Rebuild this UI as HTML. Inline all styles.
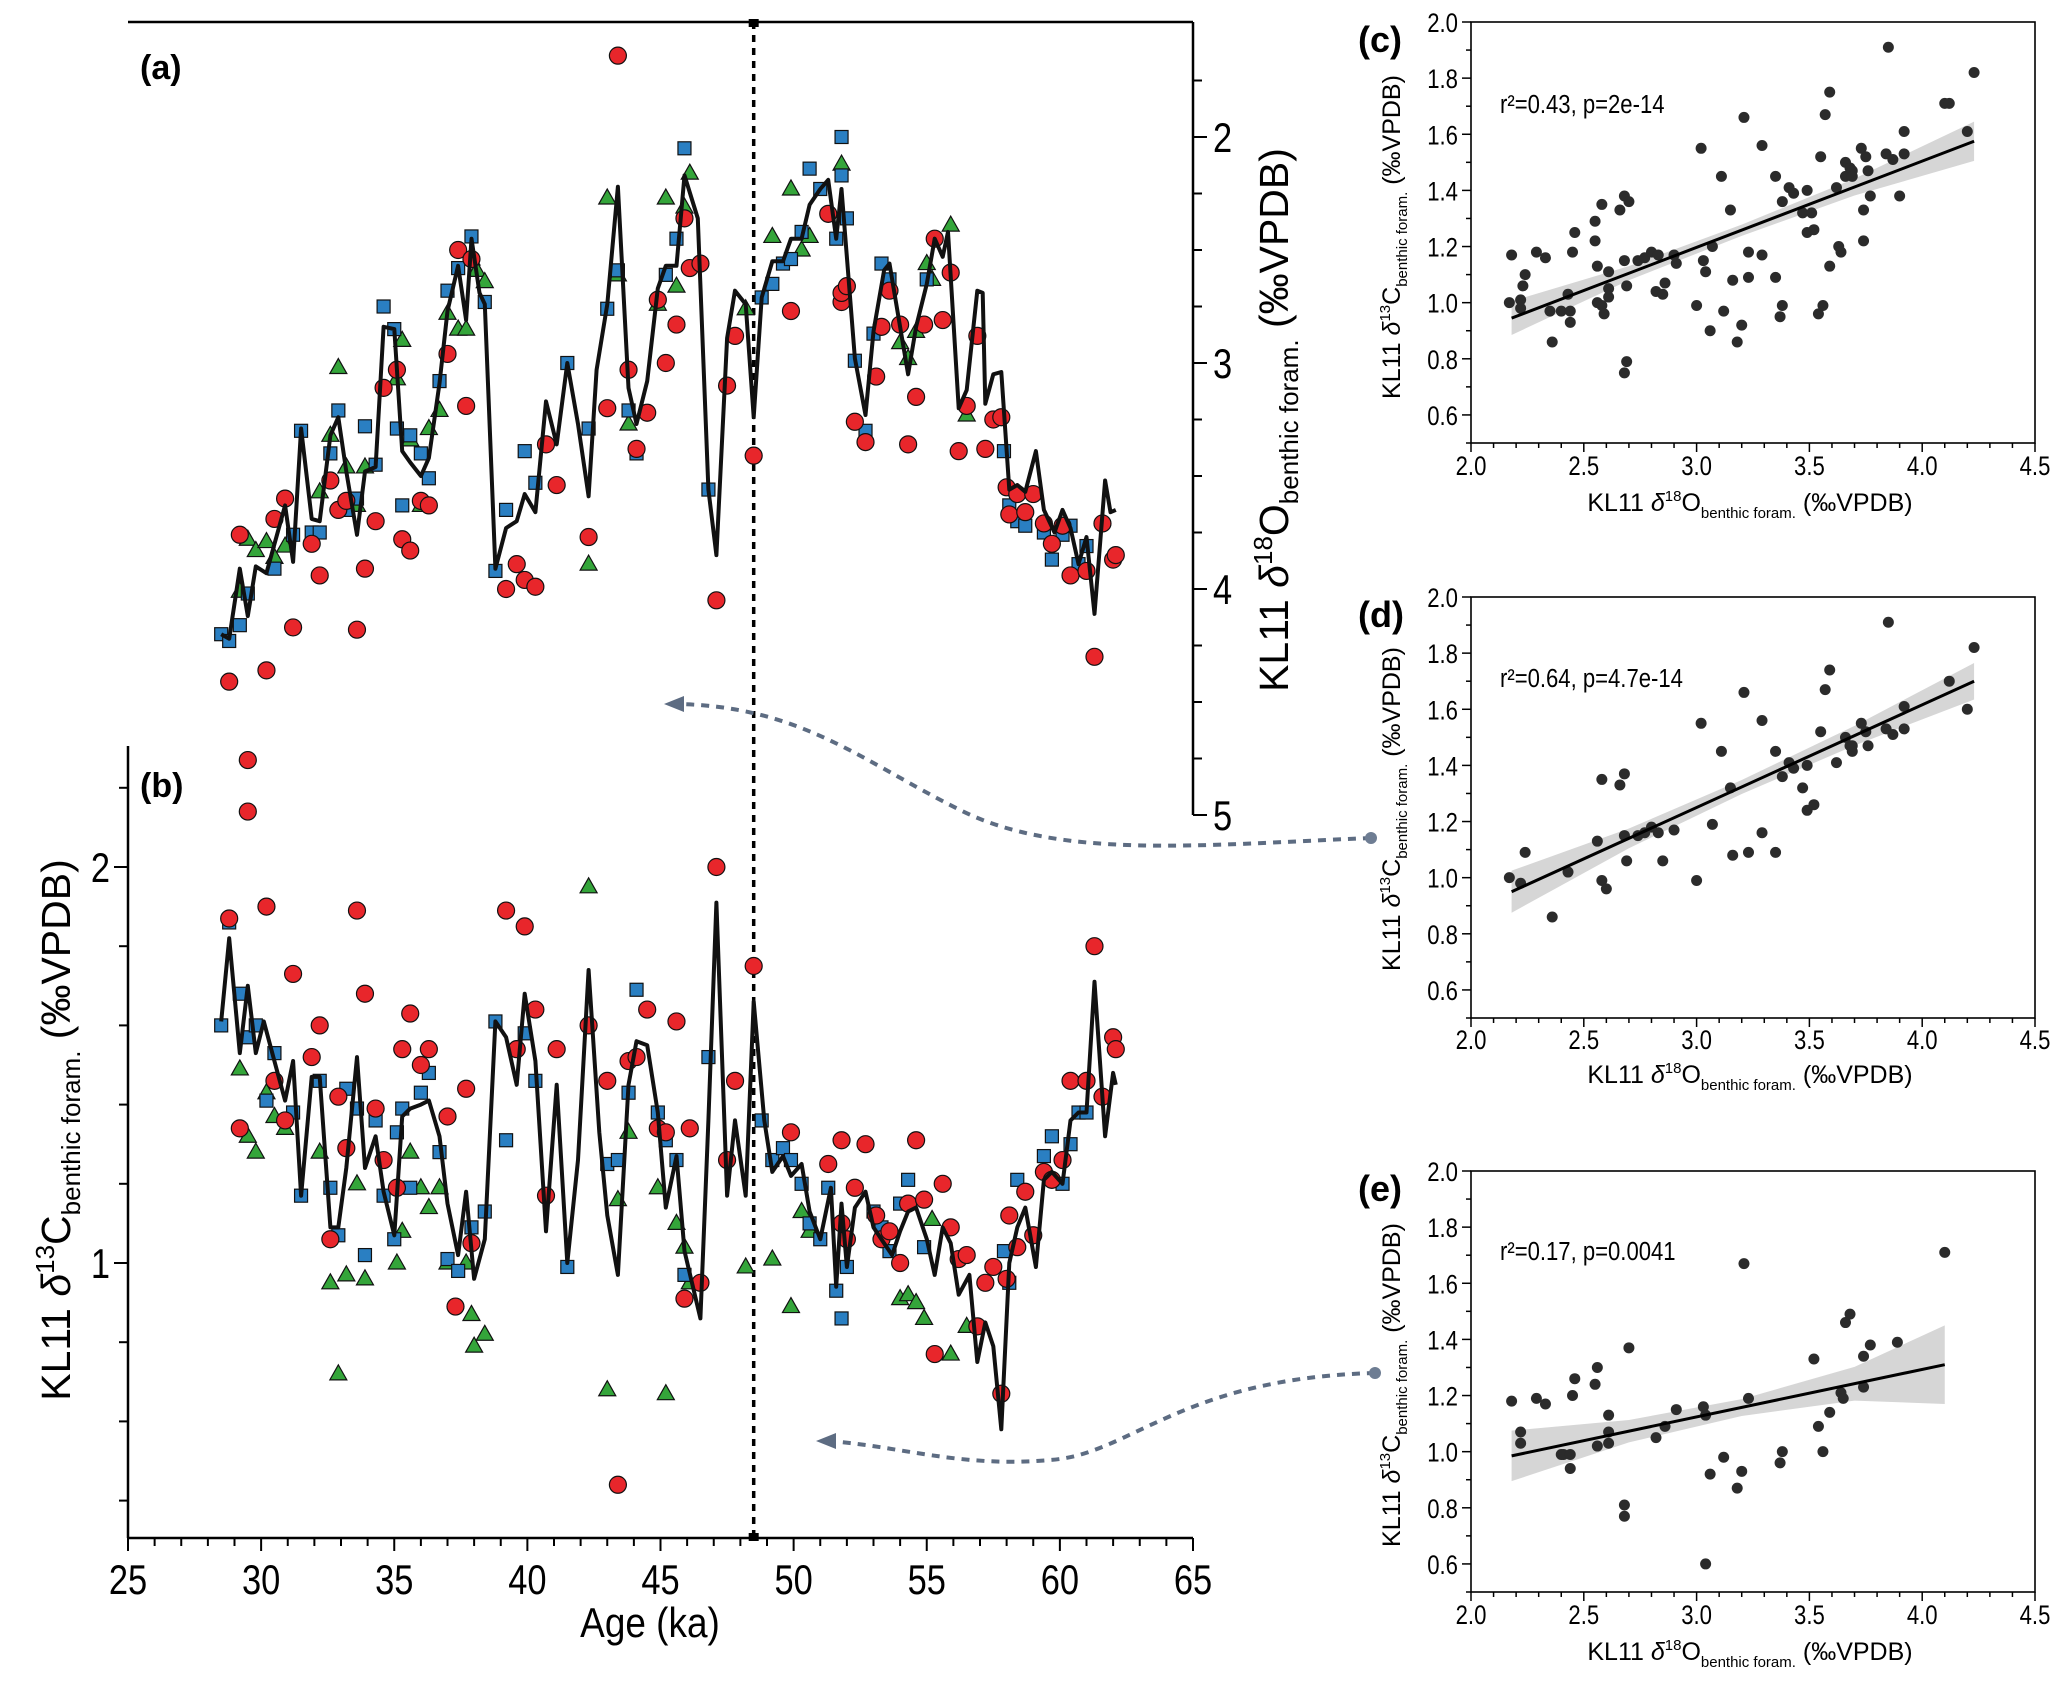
<!DOCTYPE html>
<html><head><meta charset="utf-8"><title>KL11 benthic isotopes</title>
<style>
html,body{margin:0;padding:0;background:#fff;}
svg{display:block;font-family:"Liberation Sans Narrow","Liberation Sans",sans-serif;}
</style></head>
<body>
<svg id="fig" xmlns="http://www.w3.org/2000/svg" width="2067" height="1683" viewBox="0 0 2067 1683">
<rect width="2067" height="1683" fill="#fff"/>
<g id="main"></g>
<g id="scat"></g>
</svg>
<script>
// ---------- Time-series data ----------
const lineA_age=[28.5,28.8,29.2,29.5,29.8,30.2,30.9,31.2,31.5,31.9,32.2,32.6,32.9,33.2,33.6,33.9,34.3,34.6,35.0,35.3,35.6,36.0,36.3,36.7,37.0,37.4,37.7,37.9,38.2,38.4,38.8,39.2,39.6,39.9,40.3,40.7,41.1,41.5,41.9,42.3,42.6,43.0,43.4,43.8,44.1,44.5,44.9,45.2,45.6,45.9,46.4,46.8,47.1,47.5,47.8,48.2,48.5,48.8,49.2,49.6,49.9,50.3,50.6,51.0,51.3,51.6,51.8,52.3,52.7,53.0,53.4,53.6,54.0,54.3,54.6,55.0,55.3,55.6,55.8,56.2,56.5,56.9,57.1,57.2,57.5,57.8,58.1,58.4,58.7,59.1,59.4,59.8,60.1,60.4,60.7,61.0,61.3,61.7,61.9,62.1];
const lineA_val=[4.20,4.22,3.91,4.12,3.90,3.93,3.63,3.88,3.29,3.69,3.70,3.32,3.24,3.48,3.76,3.48,3.46,2.84,2.85,3.39,3.44,3.50,3.42,3.09,2.77,2.57,2.81,2.45,2.69,2.74,3.91,3.73,3.70,3.58,3.66,3.17,3.36,3.00,3.27,3.59,3.03,2.74,2.22,3.11,3.27,3.08,2.67,2.57,2.57,2.17,2.36,3.56,3.85,2.89,2.68,2.74,3.24,2.71,2.55,2.55,2.45,2.45,2.30,2.23,2.19,2.45,2.23,2.98,3.23,2.86,2.59,2.56,2.84,3.05,2.84,2.65,2.45,2.53,2.42,3.20,3.12,2.68,2.69,3.18,3.05,3.04,3.56,3.54,3.57,3.39,3.65,3.75,3.65,3.73,3.89,3.77,4.11,3.52,3.66,3.65];
const redA_age=[43.4,28.8,29.2,30.2,30.5,30.9,31.2,31.9,32.2,32.6,32.9,33.2,33.6,33.9,34.3,34.6,35.1,35.3,35.6,36.0,36.3,37.0,37.4,37.7,37.9,39.2,39.6,39.9,40.3,40.7,41.1,42.3,43.0,43.8,44.1,44.5,44.9,45.2,45.6,45.9,46.1,46.5,47.1,47.5,47.8,48.5,49.9,51.3,51.8,51.8,52.0,52.3,52.7,53.1,53.3,53.6,54.0,54.3,54.6,54.9,55.3,55.6,55.9,56.2,56.5,56.9,57.2,57.5,57.8,58.0,58.1,58.4,58.7,59.0,59.4,59.7,60.1,60.4,61.0,61.3,61.6,62.0,62.1];
const redA_val=[1.64,4.41,3.76,4.36,3.69,3.60,4.17,3.80,3.94,3.52,3.65,3.61,4.18,3.91,3.70,3.11,3.03,3.78,3.83,3.61,3.63,2.96,2.50,3.19,2.54,4.00,3.89,3.96,3.99,3.36,3.54,3.77,3.20,3.03,3.38,3.22,2.72,3.00,2.83,2.36,2.58,2.56,4.05,3.10,2.88,3.41,2.77,2.34,2.73,2.69,2.66,3.26,3.35,3.06,2.84,2.68,2.83,3.36,3.15,2.83,2.45,2.81,2.60,3.39,3.19,2.88,3.38,3.25,3.24,3.55,3.67,3.58,3.66,3.58,3.71,3.80,3.72,3.94,3.92,4.30,3.71,3.87,3.85];
const blueA_age=[28.5,28.8,29.2,29.5,30.5,31.2,31.5,31.9,32.2,32.6,32.9,33.2,33.6,33.9,34.3,34.6,35.0,35.1,35.3,35.6,36.0,36.3,36.7,37.0,37.4,37.9,38.4,38.8,39.2,39.9,40.3,41.5,42.3,43.0,43.4,43.8,44.1,45.2,45.6,45.9,46.8,48.8,49.2,49.6,49.9,50.3,50.6,51.0,51.6,51.8,51.8,52.0,52.3,52.7,53.0,53.3,53.6,55.0,57.9,58.1,58.4,58.7,59.4,59.7,60.1,60.4,60.7,61.0];
const blueA_val=[4.20,4.23,4.16,4.02,3.91,3.76,3.30,3.75,3.75,3.40,3.21,3.65,3.60,3.28,3.45,2.75,2.85,3.29,3.63,3.32,3.40,3.51,3.08,2.68,2.58,2.44,2.73,3.92,3.65,3.39,3.53,3.00,3.29,2.76,2.59,3.21,3.40,2.61,2.45,2.05,3.56,2.71,2.65,2.56,2.54,2.42,2.14,2.23,2.45,2.17,2.00,2.36,2.99,3.30,2.87,2.56,2.63,2.63,3.39,3.63,3.70,3.72,3.75,3.87,3.76,3.72,3.89,3.81];
const greenA_age=[29.2,29.5,29.8,30.2,30.5,30.9,32.2,32.6,32.9,33.2,33.6,33.9,35.1,35.3,35.6,36.0,36.3,36.7,37.0,37.4,37.7,37.9,38.1,38.4,42.3,43.0,43.4,43.8,44.9,45.2,45.6,45.9,46.1,48.2,49.2,49.9,50.3,50.6,51.8,54.0,54.3,54.6,55.0,55.2,55.9,56.5];
const greenA_val=[4.01,3.78,3.83,3.79,3.86,3.81,3.57,3.32,3.02,3.46,3.63,3.46,3.07,2.90,3.34,3.63,3.29,3.21,2.78,2.85,2.85,2.54,2.59,2.64,3.89,2.27,2.61,3.27,2.74,2.27,2.66,2.31,2.16,2.76,2.44,2.23,2.50,2.44,2.12,2.91,2.98,2.86,2.56,2.63,2.39,3.23];

const lineB_age=[28.5,28.8,29.2,29.5,29.8,30.1,30.5,30.9,31.2,31.5,31.9,32.2,32.6,32.9,33.2,33.6,33.9,34.3,34.6,35.0,35.3,35.6,36.0,36.3,36.7,37.0,37.4,37.7,38.0,38.4,38.8,39.2,39.6,39.9,40.3,40.7,41.1,41.5,41.9,42.3,42.7,43.0,43.4,43.8,44.1,44.5,44.9,45.2,45.6,45.9,46.5,46.8,47.1,47.5,47.8,48.2,48.5,48.9,49.2,49.6,49.9,50.3,50.6,51.0,51.4,51.6,51.8,52.0,52.3,52.7,53.0,53.4,53.7,54.0,54.3,54.6,55.0,55.3,55.6,55.9,56.2,56.6,56.9,57.2,57.5,57.8,58.1,58.4,58.7,59.1,59.4,59.7,60.1,60.4,60.7,61.0,61.3,61.7,62.0,62.1];
const lineB_val=[1.61,1.82,1.53,1.70,1.53,1.61,1.51,1.41,1.51,1.17,1.47,1.47,1.09,1.09,1.24,1.52,1.24,1.32,1.18,1.07,1.37,1.39,1.40,1.41,1.32,1.15,1.02,1.18,0.96,1.06,1.61,1.57,1.45,1.68,1.51,1.08,1.45,1.00,1.26,1.74,1.33,1.12,0.97,1.45,1.56,1.55,1.38,1.14,1.27,1.03,0.86,1.36,1.91,1.17,1.36,1.17,1.66,1.36,1.23,1.27,1.22,1.25,1.13,1.06,1.19,0.94,1.15,0.99,1.14,1.18,1.09,1.05,1.02,1.08,1.13,1.14,1.06,0.97,1.09,1.05,0.92,0.97,0.75,0.85,0.79,0.58,1.00,1.09,1.14,0.99,1.21,1.23,1.20,1.36,1.38,1.38,1.71,1.32,1.48,1.45];
const redB_age=[29.5,29.5,28.8,29.2,30.2,30.5,30.9,31.2,31.9,32.2,32.6,32.9,33.2,33.6,33.9,34.3,34.6,35.1,35.3,35.6,36.0,36.3,37.0,37.7,37.3,37.9,39.2,39.6,39.9,40.3,40.7,41.1,42.3,43.0,43.8,44.1,44.5,44.9,45.2,45.6,45.9,46.1,46.5,43.4,47.1,47.5,47.8,48.5,49.9,51.3,51.8,51.8,52.0,52.3,52.7,53.1,53.3,53.6,54.0,54.3,54.6,54.9,55.3,55.6,55.9,56.2,56.5,56.9,57.2,57.5,57.8,58.0,58.1,58.4,58.7,59.0,59.4,59.7,60.1,60.4,61.0,61.3,61.6,62.0,62.1];
const redB_val=[2.27,2.14,1.87,1.34,1.90,1.46,1.36,1.73,1.52,1.60,1.06,1.42,1.29,1.89,1.68,1.39,1.26,1.19,1.54,1.63,1.50,1.54,1.37,1.44,0.89,1.05,1.89,1.54,1.85,1.64,1.17,1.54,1.60,1.46,1.51,1.52,1.64,1.34,1.33,1.61,0.91,1.34,0.95,0.44,2.00,1.26,1.46,1.75,1.33,1.25,1.31,1.10,1.06,1.19,1.30,1.12,1.06,1.08,1.00,1.15,1.31,1.16,0.77,1.20,1.09,1.01,1.02,0.84,0.95,0.99,0.67,0.96,1.12,1.04,1.18,1.07,1.23,1.21,1.26,1.46,1.46,1.80,1.42,1.57,1.54];
const blueB_age=[28.5,28.8,29.2,29.5,29.8,30.2,30.5,31.2,31.5,32.2,32.6,32.9,33.2,33.6,33.9,34.3,34.6,35.0,35.1,35.3,35.6,36.0,36.3,36.7,37.0,37.4,37.9,38.4,38.8,39.2,39.9,40.3,41.5,43.0,43.4,43.8,44.1,44.9,45.2,45.6,45.9,46.8,48.8,49.2,49.6,49.9,50.3,50.6,51.0,51.3,51.6,51.8,52.0,53.0,53.3,53.6,54.0,54.3,54.9,57.9,58.1,58.4,59.4,59.7,60.1,60.4,60.7,61.0];
const blueB_val=[1.60,1.86,1.68,1.57,1.60,1.41,1.53,1.38,1.17,1.46,1.19,1.07,1.44,1.39,1.02,1.36,1.17,1.06,1.33,1.39,1.19,1.43,1.48,1.28,1.01,0.98,1.09,1.13,1.61,1.31,1.58,1.46,0.99,1.25,1.26,1.43,1.69,1.38,1.31,1.26,0.97,1.52,1.36,1.26,1.29,1.26,1.20,1.10,1.06,1.19,0.93,0.86,0.99,1.13,1.09,1.03,1.15,1.21,1.04,1.03,0.95,1.21,1.27,1.32,1.20,1.30,1.38,1.38];
const greenB_age=[29.2,29.5,29.8,30.2,30.5,30.9,32.2,32.6,32.9,33.2,33.6,33.9,35.1,35.3,35.6,36.0,36.3,36.7,37.0,37.7,37.9,38.0,38.4,42.3,43.0,43.4,43.8,44.9,45.2,45.6,45.9,46.1,48.2,49.2,49.9,50.3,50.6,54.0,54.3,54.6,54.9,55.2,55.9,56.5];
const greenB_val=[1.49,1.32,1.28,1.43,1.37,1.34,1.28,0.95,0.72,0.97,1.20,0.96,1.00,1.08,1.28,1.19,1.14,1.19,1.00,1.00,0.87,0.79,0.82,1.95,0.68,1.16,1.33,1.19,0.67,1.10,1.04,0.95,0.99,1.01,0.89,1.13,1.08,0.91,0.92,0.90,0.86,1.11,0.77,0.84];

const ageTicks=[25,30,35,40,45,50,55,60,65];
const o18Ticks=[2,3,4,5];
const c13Ticks=[1,2];
const boundaryAge=[48.5];

// ---------- Scatter data ----------
const cX=[2.17,2.18,2.22,2.22,2.23,2.24,2.29,2.33,2.35,2.36,2.40,2.43,2.44,2.44,2.45,2.46,2.55,2.55,2.56,2.56,2.58,2.58,2.59,2.61,2.61,2.61,2.66,2.68,2.68,2.69,2.68,2.69,2.70,2.74,2.77,2.80,2.82,2.83,2.85,2.86,2.90,2.91,3.00,3.02,3.03,3.04,3.06,3.07,3.11,3.12,3.15,3.16,3.18,3.20,3.21,3.23,3.23,3.29,3.29,3.35,3.35,3.37,3.38,3.38,3.41,3.43,3.47,3.49,3.49,3.51,3.52,3.54,3.55,3.56,3.62,3.63,3.64,3.57,3.59,3.59,3.66,3.66,3.68,3.69,3.69,3.73,3.74,3.74,3.75,3.76,3.77,3.85,3.84,3.87,3.90,3.92,3.92,4.10,4.12,4.20,4.23];
const cY=[1.00,1.17,0.98,1.01,1.06,1.10,1.18,1.16,0.97,0.86,0.97,1.03,0.97,0.93,1.18,1.25,1.22,1.29,1.00,1.13,0.99,1.35,0.96,1.02,1.05,1.11,1.33,1.38,1.15,0.79,0.75,1.06,1.36,1.15,1.16,1.18,1.04,1.17,1.03,1.07,1.17,1.14,0.99,1.55,1.15,1.11,0.90,1.20,1.45,0.97,1.33,1.08,0.86,0.92,1.66,1.18,1.09,1.56,1.17,1.45,1.09,0.95,1.36,0.99,1.41,1.39,1.32,1.40,1.25,1.32,1.26,0.96,1.52,0.99,1.41,1.20,1.18,1.67,1.75,1.13,1.45,1.50,1.48,1.47,1.45,1.55,1.33,1.22,1.52,1.47,1.38,1.91,1.53,1.51,1.38,1.53,1.61,1.71,1.71,1.61,1.82];
const dX=[2.17,2.22,2.24,2.36,2.43,2.56,2.58,2.58,2.60,2.66,2.68,2.68,2.69,2.74,2.77,2.80,2.83,2.85,2.90,3.00,3.02,3.07,3.11,3.15,3.16,3.21,3.23,3.29,3.29,3.35,3.35,3.38,3.41,3.43,3.47,3.49,3.49,3.52,3.55,3.57,3.59,3.62,3.66,3.68,3.69,3.69,3.73,3.75,3.76,3.85,3.84,3.87,3.92,3.92,4.12,4.20,4.23];
const dY=[1.00,0.98,1.09,0.86,1.02,1.13,1.35,0.99,0.96,1.33,1.37,1.15,1.06,1.15,1.16,1.18,1.16,1.06,1.17,0.99,1.55,1.19,1.45,1.32,1.08,1.66,1.09,1.56,1.16,1.45,1.09,1.36,1.41,1.39,1.32,1.40,1.24,1.26,1.52,1.67,1.74,1.41,1.50,1.47,1.45,1.47,1.55,1.52,1.47,1.91,1.53,1.51,1.53,1.61,1.70,1.60,1.82];
const eX=[2.18,2.22,2.22,2.29,2.33,2.40,2.41,2.44,2.44,2.45,2.46,2.55,2.56,2.56,2.61,2.61,2.61,2.68,2.68,2.70,2.82,2.86,2.91,3.03,3.04,3.04,3.06,3.12,3.18,3.20,3.21,3.23,3.37,3.38,3.52,3.54,3.56,3.59,3.64,3.65,3.66,3.68,3.74,3.74,3.77,3.89,4.10];
const eY=[1.18,1.07,1.03,1.19,1.17,0.99,0.99,0.99,0.94,1.20,1.26,1.24,1.30,1.02,1.07,1.13,1.03,0.77,0.81,1.37,1.05,1.09,1.15,1.16,1.13,0.60,0.92,0.98,0.87,0.93,1.67,1.19,0.96,1.00,1.33,1.09,1.00,1.14,1.21,1.19,1.46,1.49,1.34,1.23,1.38,1.39,1.71];
const cBandX=[2.18,2.7,3.2,3.7,4.23], cLo=[0.885,1.08,1.238,1.382,1.505], cHi=[1.005,1.13,1.278,1.442,1.645], cFitX=[2.18,4.23], cFitY=[0.945,1.575];
const dBandX=[2.18,2.7,3.2,3.7,4.23], dLo=[0.875,1.105,1.298,1.471,1.635], dHi=[1.025,1.175,1.348,1.541,1.765], dFitX=[2.18,4.23], dFitY=[0.95,1.70];
const eBandX=[2.18,2.7,3.2,3.7,4.10], eLo=[0.895,1.033,1.127,1.182,1.17], eHi=[1.075,1.113,1.187,1.302,1.45], eFitX=[2.18,4.10], eFitY=[0.985,1.31];
const sxTicks=[2.0,2.5,3.0,3.5,4.0,4.5];
const syTicks=[0.6,0.8,1.0,1.2,1.4,1.6,1.8,2.0];

const NS="http://www.w3.org/2000/svg";
function mk(parent,tag,attrs,text){const e=document.createElementNS(NS,tag);for(const k in attrs)e.setAttribute(k,attrs[k]);if(text!==undefined)e.textContent=text;parent.appendChild(e);return e;}
// narrow text: draw at origin, translate+scale horizontally
function ntext(parent,x,y,size,anchor,str,sx){return mk(parent,'text',{x:0,y:0,transform:`translate(${x},${y}) scale(${sx||0.82},1)`,'font-size':size,'text-anchor':anchor},str);}

// ---------- Main chart axes ----------
const L=128,R=1193,TOP=22,BOT=1538;
const xA=a=>L+(a-25)*(R-L)/40;
const yO=v=>137+(v-2)*226;
const yC=v=>867+(2-v)*396;
const M=document.getElementById('main');

let e=mk(M,'line',{x1:L,y1:TOP,x2:R,y2:TOP,stroke:'#000','stroke-width':2.5});

const xg=mk(M,'g',{});

mk(xg,'line',{x1:L,y1:BOT,x2:R,y2:BOT,stroke:'#000','stroke-width':2.5});
for(let a=25;a<=65;a++){mk(xg,'line',{x1:xA(a),y1:BOT,x2:xA(a),y2:BOT+(a%5===0?13:8),stroke:'#000','stroke-width':2});}
ageTicks.forEach(a=>{const t=ntext(xg,xA(a),1594,42,'middle',String(a));
});
e=ntext(M,650,1637,42,'middle','Age (ka)',0.88);


const rg=mk(M,'g',{});

mk(rg,'line',{x1:R,y1:TOP,x2:R,y2:yO(5),stroke:'#000','stroke-width':2.5});
for(let v=1.75;v<=5.001;v+=0.25){mk(rg,'line',{x1:R,y1:yO(v),x2:R+(Math.abs(v-Math.round(v))<0.01?14:9),y2:yO(v),stroke:'#000','stroke-width':2});}
o18Ticks.forEach(v=>{const t=ntext(rg,1213,yO(v)+15,42,'start',String(v));
});
e=mk(M,'text',{transform:'translate(1288,420) rotate(-90)','font-size':41,'text-anchor':'middle','font-family':'"Liberation Sans",sans-serif'});

e.innerHTML='KL11 <tspan font-style="italic">δ</tspan><tspan dy="-16" font-size="26">18</tspan><tspan dy="16">O</tspan><tspan dy="10" font-size="26">benthic foram.</tspan><tspan dy="-10"> (‰VPDB)</tspan>';

const lg=mk(M,'g',{});

mk(lg,'line',{x1:L,y1:746,x2:L,y2:BOT,stroke:'#000','stroke-width':2.5});
for(let v=0.4;v<=2.201;v+=0.2){mk(lg,'line',{x1:L,y1:yC(v),x2:L-(Math.abs(v-Math.round(v))<0.01?14:9),y2:yC(v),stroke:'#000','stroke-width':2});}
c13Ticks.forEach(v=>{const t=ntext(lg,110,yC(v)+15,42,'end',String(v));
});
e=mk(M,'text',{transform:'translate(70,1130) rotate(-90)','font-size':41,'text-anchor':'middle','font-family':'"Liberation Sans",sans-serif'});

e.innerHTML='KL11 <tspan font-style="italic">δ</tspan><tspan dy="-16" font-size="26">13</tspan><tspan dy="16">C</tspan><tspan dy="10" font-size="26">benthic foram.</tspan><tspan dy="-10"> (‰VPDB)</tspan>';

e=mk(M,'text',{x:140,y:79,'font-size':34,'font-weight':'bold','font-family':'"Liberation Sans",sans-serif'},'(a)');

e=mk(M,'text',{x:140,y:797,'font-size':34,'font-weight':'bold','font-family':'"Liberation Sans",sans-serif'},'(b)');


boundaryAge.forEach(a=>{const g=mk(M,'g',{});

mk(g,'line',{x1:xA(a),y1:TOP,x2:xA(a),y2:BOT,stroke:'#000','stroke-width':3.5,'stroke-dasharray':'7,6'});
mk(g,'rect',{x:xA(a)-5,y:TOP-3,width:10,height:8,fill:'#000'});
mk(g,'rect',{x:xA(a)-5,y:BOT-5,width:10,height:8,fill:'#000'});});

const ag=mk(M,'g',{});

mk(ag,'path',{d:'M1371,838 C1200,845 1060,860 960,810 C860,760 800,706 676,704',fill:'none',stroke:'#5d6c82','stroke-width':4,'stroke-dasharray':'8,7'});
mk(ag,'path',{d:'M664,704 L684,696 L684,712 Z',fill:'#5d6c82'});
mk(ag,'circle',{cx:1371,cy:838,r:6,fill:'#6e7d93'});
mk(ag,'path',{d:'M1375,1373 C1180,1378 1130,1455 1050,1460 C960,1468 900,1446 828,1441',fill:'none',stroke:'#5d6c82','stroke-width':4,'stroke-dasharray':'8,7'});
mk(ag,'path',{d:'M816,1441 L836,1433 L836,1449 Z',fill:'#5d6c82'});
mk(ag,'circle',{cx:1375,cy:1373,r:6,fill:'#6e7d93'});

function drawSeries(ages,vals,yf,shape,name){
  const g=mk(M,'g',{});
  
  const n=Math.min(ages.length,vals.length);
  for(let i=0;i<n;i++){const x=xA(ages[i]),y=yf(vals[i]);let m;
    if(shape==='circle')m=mk(g,'circle',{cx:x,cy:y,r:8.5,fill:'#e8262b',stroke:'#111','stroke-width':1.2});
    else if(shape==='square')m=mk(g,'rect',{x:x-6.5,y:y-6.5,width:13,height:13,fill:'#2a7fc2',stroke:'#111','stroke-width':1.2});
    else m=mk(g,'path',{d:`M${x},${y-9} L${x+8.5},${y+6} L${x-8.5},${y+6} Z`,fill:'#34a53a',stroke:'#111','stroke-width':1.2});
    }
}
function drawLine(ages,vals,yf,name){const n=Math.min(ages.length,vals.length);let d='';
  for(let i=0;i<n;i++)d+=(i?'L':'M')+xA(ages[i]).toFixed(1)+','+yf(vals[i]).toFixed(1);
  const p=mk(M,'path',{d:d,fill:'none',stroke:'#111','stroke-width':4,'stroke-linejoin':'round'});
  }
drawSeries(greenA_age,greenA_val,yO,'tri','d18o-green-triangles');
drawSeries(blueA_age,blueA_val,yO,'square','d18o-blue-squares');
drawSeries(redA_age,redA_val,yO,'circle','d18o-red-circles');
drawLine(lineA_age,lineA_val,yO,'d18o-mean-line');
drawSeries(greenB_age,greenB_val,yC,'tri','d13c-green-triangles');
drawSeries(blueB_age,blueB_val,yC,'square','d13c-blue-squares');
drawSeries(redB_age,redB_val,yC,'circle','d13c-red-circles');
drawLine(lineB_age,lineB_val,yC,'d13c-mean-line');

// ---------- Scatter panels ----------
const S=document.getElementById('scat');
const SL=1471,SR=2035;
const sx=v=>SL+(v-2)*(SR-SL)/2.5;
function panel(letter,top,bottom,X,Y,bX,lo,hi,fX,fY,stat,labelBase,tickBase,titleBase,ytitleY){
  const g=mk(S,'g',{});
  
  const per=(bottom-top)/1.5;
  const sy=v=>top+(2-v)*per;
  mk(g,'rect',{x:SL,y:top,width:SR-SL,height:bottom-top,fill:'none',stroke:'#000','stroke-width':1.6});
  for(let i=0;i<=25;i++){const v=2+i*0.1;mk(g,'line',{x1:sx(v),y1:bottom,x2:sx(v),y2:bottom+(i%5===0?9:5),stroke:'#000','stroke-width':1.5});}
  for(let i=0;i<=15;i++){const v=0.5+i*0.1;mk(g,'line',{x1:SL,y1:sy(v),x2:SL-(i%2===1?9:5),y2:sy(v),stroke:'#000','stroke-width':1.5});}
  sxTicks.forEach(v=>{const t=ntext(g,sx(v),tickBase,27,'middle',v.toFixed(1));
    });
  syTicks.forEach(v=>{const t=ntext(g,SL-13,sy(v)+10,27,'end',v.toFixed(1));
    });
  let d='M'+sx(bX[0])+','+sy(hi[0]);
  for(let i=1;i<bX.length;i++)d+='L'+sx(bX[i])+','+sy(hi[i]);
  for(let i=bX.length-1;i>=0;i--)d+='L'+sx(bX[i])+','+sy(lo[i]);
  const b=mk(g,'path',{d:d+'Z',fill:'#d6d6d6'});
  
  const n=Math.min(X.length,Y.length);
  for(let i=0;i<n;i++){const c=mk(g,'circle',{cx:sx(X[i]),cy:sy(Y[i]),r:5.5,fill:'#2b2b2b'});
    }
  const fl=mk(g,'line',{x1:sx(fX[0]),y1:sy(fY[0]),x2:sx(fX[1]),y2:sy(fY[1]),stroke:'#000','stroke-width':3});
  
  let t=ntext(g,1500,labelBase,26,'start',stat,0.85);
  
  t=mk(g,'text',{x:1358,y:top+30,'font-size':36,'font-weight':'bold','font-family':'"Liberation Sans",sans-serif'},'('+letter+')');
  
  t=mk(g,'text',{x:1750,y:titleBase,'font-size':25,'text-anchor':'middle','font-family':'"Liberation Sans",sans-serif'});
  
  t.innerHTML='KL11 <tspan font-style="italic">δ</tspan><tspan dy="-10" font-size="15">18</tspan><tspan dy="10">O</tspan><tspan dy="7" font-size="15">benthic foram.</tspan><tspan dy="-7"> (‰VPDB)</tspan>';
  t=mk(g,'text',{transform:`translate(1400,${ytitleY}) rotate(-90)`,'font-size':25,'text-anchor':'middle','font-family':'"Liberation Sans",sans-serif'});
  
  t.innerHTML='KL11 <tspan font-style="italic">δ</tspan><tspan dy="-10" font-size="15">13</tspan><tspan dy="10">C</tspan><tspan dy="7" font-size="15">benthic foram.</tspan><tspan dy="-7"> (‰VPDB)</tspan>';
}
panel('c',22,443,cX,cY,cBandX,cLo,cHi,cFitX,cFitY,'r²=0.43, p=2e-14',113,475,511,237);
panel('d',597,1018,dX,dY,dBandX,dLo,dHi,dFitX,dFitY,'r²=0.64, p=4.7e-14',687,1049,1083,809);
panel('e',1171,1592,eX,eY,eBandX,eLo,eHi,eFitX,eFitY,'r²=0.17, p=0.0041',1260,1624,1660,1385);
</script>
</body></html>
